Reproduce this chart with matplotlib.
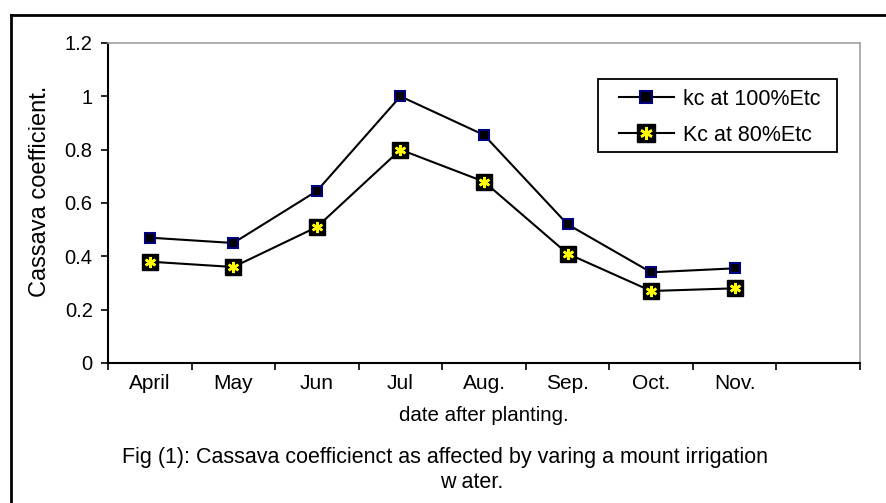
import matplotlib
matplotlib.use("Agg")
import matplotlib.pyplot as plt
from matplotlib.lines import Line2D
from matplotlib.patches import Rectangle

months = ["April", "May", "Jun", "Jul", "Aug.", "Sep.", "Oct.", "Nov.", ""]
kc_100 = [0.47, 0.45, 0.645, 1.0, 0.855, 0.52, 0.34, 0.355]
kc_80 = [0.38, 0.36, 0.51, 0.80, 0.68, 0.41, 0.27, 0.28]

plt.rcParams['font.family'] = ['Liberation Sans', 'DejaVu Sans']

W, H = 886, 503
fig = plt.figure(figsize=(W / 100, H / 100), dpi=100)
ax = fig.add_axes([108 / W, 1 - 363 / H, (860 - 108) / W, (363 - 43) / H])

x = [i + 0.5 for i in range(len(kc_100))]
ax.plot(x, kc_100, "-", color="black", lw=1.5, marker="s", ms=7,
        mfc="black", mec="#000080", mew=1.5)
ax.plot(x, kc_80, "-", color="black", lw=1.5, marker="s", ms=12,
        mfc="black", mec="black", zorder=3)
ax.plot(x, kc_80, linestyle="none", marker=(6, 2, 0), ms=8,
        mec="yellow", mew=1.8, zorder=4)

ax.set_xlim(0, len(months))
ax.set_ylim(0, 1.2)
ax.set_xticks(range(len(months) + 1))
ax.set_xticklabels([])
ax.set_xticks(x + [len(months) - 0.5], minor=True)
ax.set_xticklabels(months, minor=True)
ax.tick_params(axis="x", which="minor", length=0, pad=8, labelsize=15)
ax.tick_params(axis="x", which="major", length=5, direction="out", width=1.2)
ax.set_yticks([0, 0.2, 0.4, 0.6, 0.8, 1.0, 1.2])
ax.set_yticklabels(["0", "0.2", "0.4", "0.6", "0.8", "1", "1.2"])
ax.tick_params(axis="y", length=5, direction="out", width=1.2, labelsize=14.5, pad=6)

for s in ["left", "bottom"]:
    ax.spines[s].set_linewidth(1.5)
for s in ["top", "right"]:
    ax.spines[s].set_color("#a0a0a0")
    ax.spines[s].set_linewidth(1.2)

ax.set_ylabel("Cassava coefficient.", fontsize=17, labelpad=10)
ax.yaxis.label.set_y((363 - 191) / 320)
ax.set_xlabel("date after planting.", fontsize=14.8, labelpad=9)

# legend (frame drawn separately to match the wide left padding)
h1 = Line2D([], [], color="black", lw=1.5, marker="s", ms=8, mfc="black",
            mec="#000080", mew=1.5)
h2 = Line2D([], [], color="black", lw=1.5, marker="s", ms=13, mfc="black", mec="black")
h2b = Line2D([], [], linestyle="none", marker=(6, 2, 0), ms=9, mec="yellow", mew=1.8)
leg = ax.legend([h1, (h2, h2b)], ["kc at 100%Etc", "Kc at 80%Etc"],
                loc="upper left", bbox_to_anchor=((619 - 108) / 752, (363 - 89) / 320),
                borderaxespad=0, borderpad=0, fontsize=15.5, frameon=False,
                handlelength=2.55, labelspacing=0.69, handletextpad=0.4)
fig.add_artist(Rectangle((598 / W, 1 - 152 / H), (837 - 598) / W, (152 - 79) / H,
                         transform=fig.transFigure, fill=False, lw=1.3,
                         edgecolor="black"))

fig.text(445 / W, 1 - 458 / H,
         "Fig (1): Cassava coefficienct as affected by varing a mount irrigation",
         ha="center", va="center", fontsize=15.5)
fig.text(472 / W, 1 - 482 / H, "w ater.",
         ha="center", va="center", fontsize=15.5)

# outer frame (left and top only visible)
fig.add_artist(Line2D([11 / W, 11 / W], [0, 1 - 15 / H], color="black", lw=2,
                      transform=fig.transFigure))
fig.add_artist(Line2D([11 / W, 1], [1 - 15 / H, 1 - 15 / H], color="black", lw=2,
                      transform=fig.transFigure))

fig.savefig("out.png", dpi=100)
